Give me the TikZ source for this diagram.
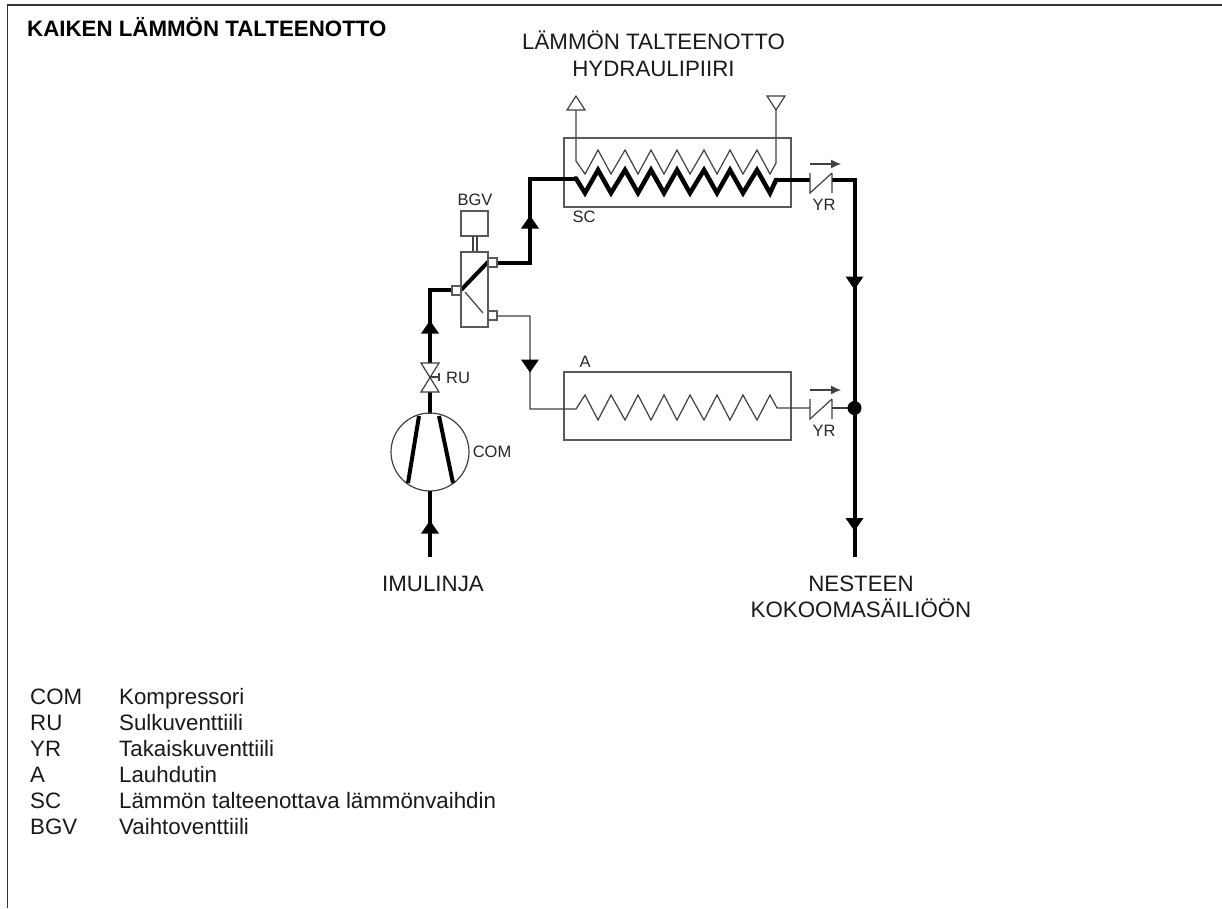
\documentclass[tikz,border=0pt]{standalone}
\usepackage{fontspec}
\setmainfont{Liberation Sans}
\usetikzlibrary{arrows.meta}
\tikzset{
  thinline/.style={draw=black!75,line width=1.2pt},
  boxline/.style={draw=black!65,line width=1.3pt},
  thickline/.style={draw=black,line width=4pt,line join=miter},
  coilline/.style={draw=black,line width=4.5pt,line join=miter,miter limit=10},
  arrowfill/.style={fill=black,draw=none},
  openmark/.style={draw=black!75,fill=white,line width=1.2pt},
  lbl/.style={inner sep=0pt,font=\fontsize{16.5}{18}\selectfont,text=black!85},
  big/.style={inner sep=0pt,anchor=base,font=\fontsize{22.3}{26.5}\selectfont,align=center,text=black!90},
  leg/.style={inner sep=0pt,anchor=base west,font=\fontsize{22.3}{26}\selectfont,text=black!90},
  port/.style={draw=black!65,fill=white,line width=1.1pt,minimum width=9pt,minimum height=9pt,inner sep=0pt}
}
\newcommand{\uptri}[2]{\fill[arrowfill] (#1-9,#2+6.5) -- (#1,#2-6.5) -- (#1+9,#2+6.5) -- cycle;}
\newcommand{\dntri}[2]{\fill[arrowfill] (#1-9,#2-6.5) -- (#1,#2+6.5) -- (#1+9,#2-6.5) -- cycle;}
\newcommand{\checkv}[2]{%
  \draw[thinline] (#1,#2-7) -- (#1,#2+13) -- (#1+22,#2-7) (#1+22,#2-7) -- (#1+22,#2+13);
  \draw[thinline,-{Latex[length=10pt,width=9pt]}] (#1,#2-16) -- (#1+31,#2-16);}
\begin{document}
\begin{tikzpicture}[x=1pt,y=-1pt]
\useasboundingbox (0,0) rectangle (1222,908);
% frame
\draw[draw=black!80,line width=1.5pt] (1222,5) -- (7.5,5) -- (7.5,908);
\node[inner sep=0pt,anchor=base west,font=\bfseries\fontsize{22.3}{24}\selectfont] (title) at (27,36) {KAIKEN LÄMMÖN TALTEENOTTO};
\node[big] (hyd1) at (653.5,49) {LÄMMÖN TALTEENOTTO};
\node[big] (hyd2) at (653.5,76) {HYDRAULIPIIRI};
% SC exchanger
\draw[boxline] (564,138) rectangle (791,207);
\draw[thinline] (576,110) -- (576,161) -- (585,174) -- (598,150) -- (611,174) -- (625,150) -- (638,174) -- (651,150) -- (664,174) -- (677,150) -- (690,174) -- (704,150) -- (717,174) -- (730,150) -- (743,174) -- (757,150) -- (770,174) -- (776,163) -- (776,110);
\draw[openmark] (567,110) -- (576,96) -- (585,110) -- cycle;
\draw[openmark] (767,96) -- (776,110) -- (785,96) -- cycle;
\draw[thickline] (497,263) -- (530,263) -- (530,178.5) -- (576,178.5);
\draw[coilline] (574,178.5) -- (576,178.5) -- (585,193) -- (598,170) -- (611,193) -- (625,170) -- (638,193) -- (651,170) -- (664,193) -- (677,170) -- (690,193) -- (704,170) -- (717,193) -- (730,170) -- (743,193) -- (757,170) -- (770,193) -- (776,180) -- (778,180);
\draw[thickline] (776,180) -- (810,180);
\draw[thickline] (832,180) -- (854.5,180) -- (854.5,557);
\checkv{810}{180}
\node[lbl] (yr1) at (824,205) {YR};
\node[lbl] (sc) at (584,217) {SC};
% condenser
\draw[boxline] (564,372) rectangle (791,440);
\draw[thinline] (497,316) -- (530,316) -- (530,409) -- (576,409) -- (585,395) -- (598,420) -- (611,395) -- (625,420) -- (638,395) -- (651,420) -- (664,395) -- (677,420) -- (690,395) -- (704,420) -- (717,395) -- (730,420) -- (743,395) -- (757,420) -- (770,395) -- (777,408) -- (810,408);
\draw[thinline] (832,408) -- (854,408);
\checkv{810}{406}
\node[lbl] (yr2) at (824,431) {YR};
\node[lbl] (a) at (585,362) {A};
\fill (854.5,408) circle (7);
% BGV
\node[lbl] (bgvl) at (475,200) {BGV};
\draw[boxline] (461,211) rectangle (488,236);
\draw[thinline] (473,236) -- (473,252) (477,236) -- (477,252);
\draw[boxline,fill=white] (461,252) rectangle (488,327);
\draw[thickline] (452,290) -- (430,290) -- (430,363);
\draw[draw=black,line width=4pt] (461,290) -- (488,262);
\draw[thinline] (465,292) -- (483,313);
\node[port] (p1) at (492.5,262.5) {};
\node[port] (p2) at (456.5,290.5) {};
\node[port] (p3) at (492.5,315.5) {};
\uptri{530}{222}
\dntri{530}{366}
\uptri{430}{327}
% RU
\draw[thickline] (430,392) -- (430,414);
\draw[openmark] (421,363) -- (439,363) -- (421,392) -- (439,392) -- cycle;
\draw[thinline] (430,377) -- (439,377) (439,373) -- (439,381);
\node[lbl] (ru) at (458,378) {RU};
% COM
\draw[thinline] (430,452) circle (39);
\draw[draw=black,line width=4pt] (419,416) -- (408,483) (439,416) -- (453,483);
\node[lbl] (com) at (492,452) {COM};
\draw[thickline] (430,491) -- (430,557);
\uptri{430}{527}
\dntri{854.5}{283}
\dntri{854.5}{524.5}
% labels
\node[big] (imu) at (433,591) {IMULINJA};
\node[big] (nes1) at (861,591) {NESTEEN};
\node[big] (nes2) at (861,617.5) {KOKOOMASÄILIÖÖN};
% legend
\node[leg] (l1) at (30,704) {COM}; \node[leg] (d1) at (119,704) {Kompressori};
\node[leg] (l2) at (30,730) {RU}; \node[leg] (d2) at (119,730) {Sulkuventtiili};
\node[leg] (l3) at (30,756) {YR}; \node[leg] (d3) at (119,756) {Takaiskuventtiili};
\node[leg] (l4) at (30,782) {A}; \node[leg] (d4) at (119,782) {Lauhdutin};
\node[leg] (l5) at (30,808) {SC}; \node[leg] (d5) at (119,808) {Lämmön talteenottava lämmönvaihdin};
\node[leg] (l6) at (30,834) {BGV}; \node[leg] (d6) at (119,834) {Vaihtoventtiili};
\end{tikzpicture}
\end{document}
